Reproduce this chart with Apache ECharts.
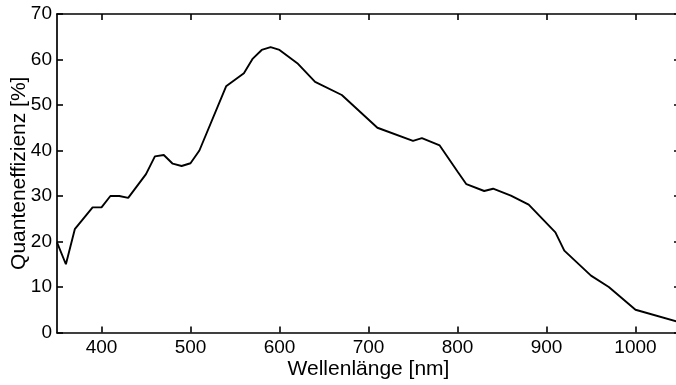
<!DOCTYPE html>
<html>
<head>
<meta charset="utf-8">
<script src="https://cdn.jsdelivr.net/npm/echarts@6/dist/echarts.min.js"></script>
<style>
html,body{margin:0;padding:0;background:#fff;}
#c{width:676px;height:385px;}
</style>
</head>
<body>
<div id="c"></div>
<script>
var wavelengths = [350,360,370,390,400,410,420,430,450,460,470,480,490,500,510,540,560,570,580,590,600,620,640,670,710,750,760,780,800,810,830,840,860,880,910,920,950,970,1000,1050];
var efficiency  = [19.8,15.0,22.7,27.5,27.5,30.0,30.0,29.6,34.8,38.7,39.0,37.1,36.6,37.2,40.0,54.1,57.0,60.2,62.1,62.7,62.1,59.2,55.1,52.2,45.0,42.1,42.7,41.1,35.4,32.6,31.1,31.6,30.1,28.1,22.0,18.0,12.5,10.0,5.0,2.2];
var xTicks = [400,500,600,700,800,900,1000];
var yTicks = [0,10,20,30,40,50,60,70];
var xName = 'Wellenlänge [nm]';
var yName = 'Quanteneffizienz [%]';

var font = 'Liberation Sans, Arial, sans-serif';
var lineStyle = {color:'#000', width:1.7};
var tickStyle = {show:true, inside:true, length:6, lineStyle:{color:'#000', width:1.6}};
function plain(v){ return String(v); }

var chart = echarts.init(document.getElementById('c'), null, {renderer:'canvas'});
chart.setOption({
  animation:false,
  backgroundColor:'#fff',
  grid:{left:57, right:-4, top:14, bottom:52.5, containLabel:false, outerBoundsMode:'none'},
  xAxis:[{
    type:'value', min:350, max:1050, position:'bottom',
    name:xName, nameLocation:'middle', nameGap:26, nameMoveOverlap:false,
    nameTextStyle:{color:'#000', fontSize:21, fontFamily:font},
    axisLine:{show:true, lineStyle:lineStyle},
    axisTick:Object.assign({customValues:xTicks}, tickStyle),
    axisLabel:{customValues:xTicks, formatter:plain, color:'#000', fontSize:19, fontFamily:font, margin:6},
    splitLine:{show:false}
  },{
    type:'value', min:350, max:1050, position:'top',
    axisLine:{show:true, onZero:false, lineStyle:lineStyle},
    axisTick:Object.assign({customValues:xTicks}, tickStyle),
    axisLabel:{show:false},
    splitLine:{show:false}
  }],
  yAxis:[{
    type:'value', min:0, max:70, interval:10, position:'left',
    name:yName, nameLocation:'middle', nameGap:27, nameRotate:90, nameMoveOverlap:false,
    nameTextStyle:{color:'#000', fontSize:21, fontFamily:font},
    axisLine:{show:true, lineStyle:lineStyle},
    axisTick:Object.assign({customValues:yTicks}, tickStyle),
    axisLabel:{customValues:yTicks, formatter:plain, color:'#000', fontSize:19, fontFamily:font, margin:5},
    splitLine:{show:false}
  },{
    type:'value', min:0, max:70, interval:10, position:'right',
    axisLine:{show:true, onZero:false, lineStyle:lineStyle},
    axisTick:Object.assign({customValues:yTicks}, tickStyle),
    axisLabel:{show:false},
    splitLine:{show:false}
  }],
  series:[{
    type:'line',
    xAxisIndex:0, yAxisIndex:0,
    data:wavelengths.map(function(w,i){return [w, efficiency[i]];}),
    showSymbol:false, symbol:'none',
    lineStyle:{color:'#000', width:1.9},
    clip:true
  }]
});
</script>
</body>
</html>
